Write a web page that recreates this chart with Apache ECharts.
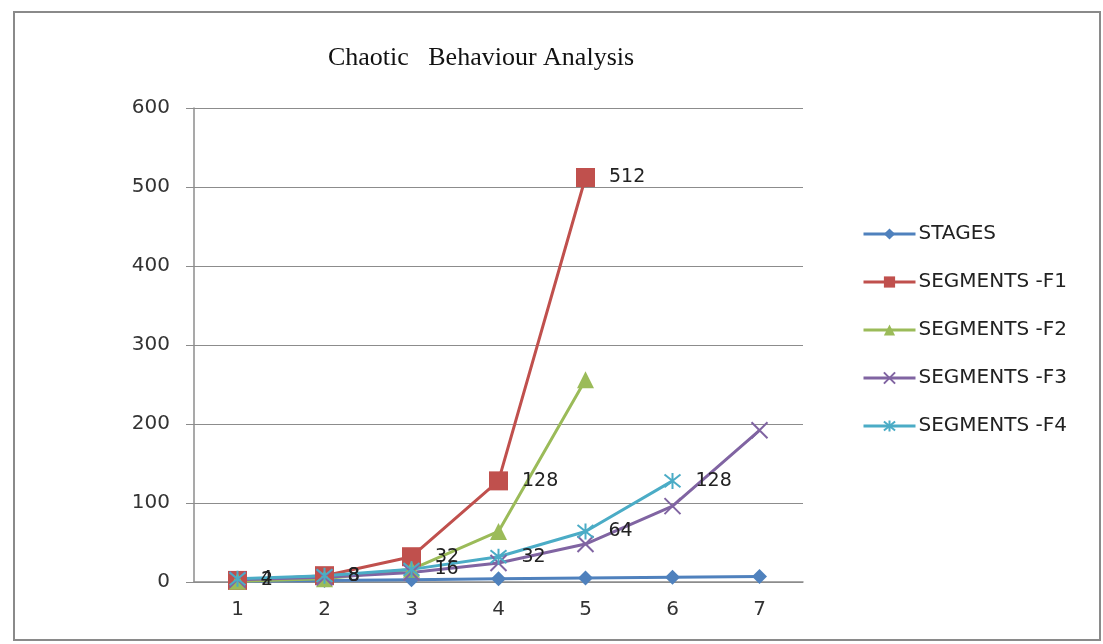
<!DOCTYPE html>
<html>
<head>
<meta charset="utf-8">
<script src="https://cdn.jsdelivr.net/npm/echarts@6/dist/echarts.min.js"></script>
<style>
html,body{margin:0;padding:0;background:#fff;}
#chart{width:1103px;height:644px;}
</style>
</head>
<body>
<div id="chart"></div>
<script>
const categories = ['1','2','3','4','5','6','7'];
const stages = [1,2,3,4,5,6,7];
const segF1 = [2,8,32,128,512];
const segF2 = [1,4,16,64,256];
const segF3 = [3,6,12,24,48,96,192];
const segF4 = [4,8,16,32,64,128];
const seriesNames = ['STAGES','SEGMENTS -F1','SEGMENTS -F2','SEGMENTS -F3','SEGMENTS -F4'];
const yTicks = [0,100,200,300,400,500,600];

const colors = ['#4F81BD','#C0504D','#9BBB59','#8064A2','#4BACC6'];
const sansFont = 'DejaVu Sans';
const labelFont = {show:true, position:'right', distance:14, color:'#222', fontFamily:sansFont, fontSize:19};

const chart = echarts.init(document.getElementById('chart'));
chart.setOption({
  animation:false,
  color: colors,
  title:{
    text:'Chaotic   Behaviour Analysis',
    left:476, top:40, textAlign:'center',
    textStyle:{fontFamily:'Liberation Serif', fontWeight:'normal', fontSize:26, color:'#111'}
  },
  graphic:[{type:'rect', shape:{x:14,y:12,width:1086,height:628}, style:{fill:'none', stroke:'#8a8a8a', lineWidth:2}, z:-1}],
  legend:{
    orient:'vertical', left:862, top:224, padding:0, itemWidth:52, itemHeight:14, itemGap:28,
    lineStyle:{width:3},
    textStyle:{fontFamily:sansFont, fontSize:20, lineHeight:20, color:'#222', padding:[0,0,0,-2]},
    data: seriesNames
  },
  grid:{left:194, right:300, top:108, bottom:62},
  xAxis:{
    type:'category', data:categories, boundaryGap:true,
    axisLine:{lineStyle:{color:'#8c8c8c', width:1.5}},
    axisTick:{show:false},
    axisLabel:{color:'#333', fontFamily:sansFont, fontSize:20, margin:18}
  },
  yAxis:{
    type:'value', min:yTicks[0], max:yTicks[yTicks.length-1], interval:100,
    axisLine:{show:true, lineStyle:{color:'#8c8c8c', width:1.5}},
    axisTick:{show:true, inside:false, length:8, lineStyle:{color:'#8c8c8c'}},
    splitLine:{lineStyle:{color:'#8c8c8c', width:1.2}},
    axisLabel:{color:'#333', fontFamily:sansFont, fontSize:20, margin:24}
  },
  series:[
    {name:seriesNames[0], type:'line', data:stages, symbol:'diamond', symbolSize:15,
     lineStyle:{width:3}, itemStyle:{color:colors[0]}},
    {name:seriesNames[1], type:'line', data:segF1, symbol:'rect', symbolSize:19,
     lineStyle:{width:3}, itemStyle:{color:colors[1]}, label:labelFont},
    {name:seriesNames[2], type:'line', data:segF2, symbol:'triangle', symbolSize:17,
     lineStyle:{width:3}, itemStyle:{color:colors[2]}},
    {name:seriesNames[3], type:'line', data:segF3, symbol:'path://M0,0L10,10M10,0L0,10', symbolSize:16,
     lineStyle:{width:3}, itemStyle:{color:colors[3], borderColor:colors[3], borderWidth:2}},
    {name:seriesNames[4], type:'line', data:segF4, symbol:'path://M5,0L5,10M1,1L9,9M9,1L1,9', symbolSize:16,
     lineStyle:{width:3}, itemStyle:{color:colors[4], borderColor:colors[4], borderWidth:2}, label:labelFont}
  ]
});
</script>
</body>
</html>
